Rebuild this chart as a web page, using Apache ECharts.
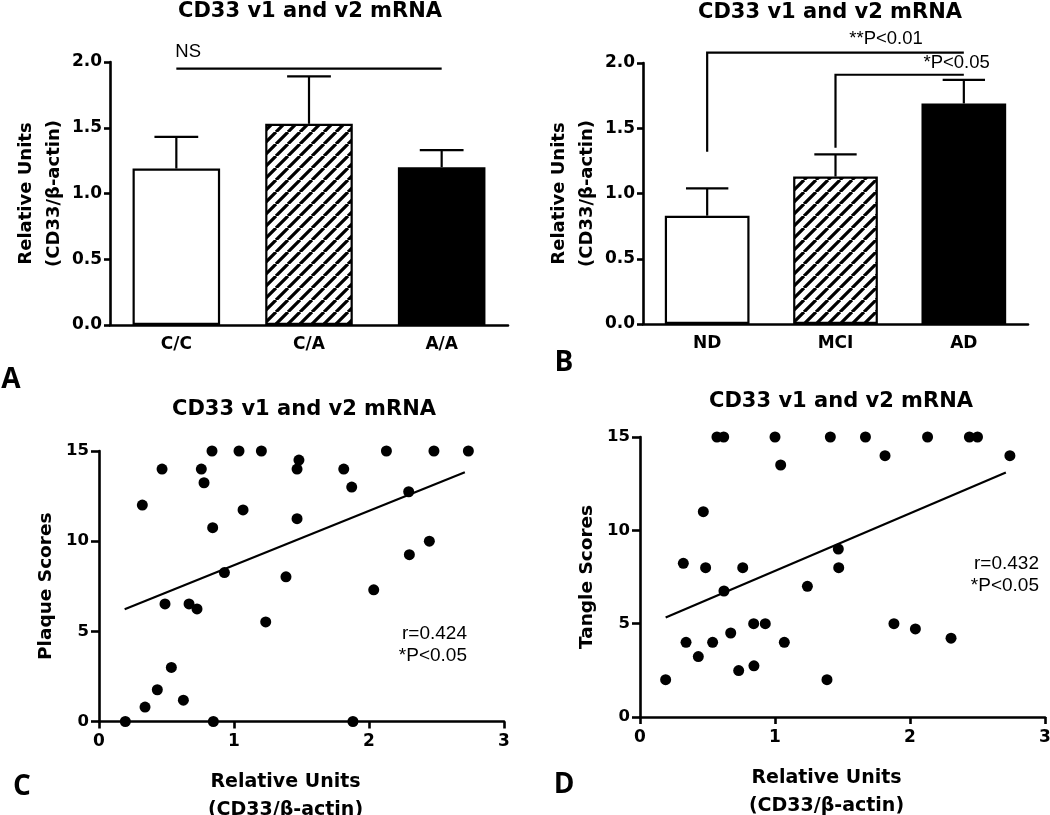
<!DOCTYPE html>
<html><head><meta charset="utf-8">
<script src="https://cdn.jsdelivr.net/npm/echarts@6.0.0/dist/echarts.min.js"></script>
<style>html,body{margin:0;padding:0;background:#fff}#c{width:1050px;height:815px}</style>
</head><body><div id="c"></div>
<script>
// ---------- data ----------
const genotypeCats = ['C/C', 'C/A', 'A/A'];
const genotypeMeans = [1.19, 1.53, 1.20];
const genotypeUpper = [1.43, 1.89, 1.33];
const diagnosisCats = ['ND', 'MCI', 'AD'];
const diagnosisMeans = [0.83, 1.13, 1.69];
const diagnosisUpper = [1.04, 1.30, 1.87];
const barYMax = 2.0;
const barYInterval = 0.5;
const scatterXMax = 3;
const scatterYMax = 15;
const scatterYInterval = 5;
const plaquePoints = [
  [0.195,0],[0.321,12.0],[0.341,0.8],[0.432,1.76],[0.467,14.0],[0.489,6.52],[0.536,3.0],
  [0.625,1.18],[0.667,6.52],[0.726,6.24],[0.758,14.0],[0.778,13.24],[0.837,15],[0.842,10.75],
  [0.847,0],[0.929,8.26],[1.037,15],[1.067,11.73],[1.203,15],[1.235,5.52],[1.385,8.02],
  [1.467,14.0],[1.467,11.25],[1.481,14.5],[1.813,14.0],[1.872,13.0],[1.881,0],[2.035,7.3],
  [2.129,15],[2.294,12.74],[2.299,9.25],[2.447,10.0],[2.481,15],[2.736,15]
];
const tanglePoints = [
  [0.19,2],[0.321,8.23],[0.341,4],[0.432,3.24],[0.469,11],[0.486,8],[0.538,4],[0.622,6.75],
  [0.672,4.5],[0.731,2.49],[0.761,8],[0.842,5],[0.844,2.74],[0.928,5],[1.042,13.5],[1.069,4],
  [1.24,7],[1.385,2],[1.469,9],[1.472,8],[1.815,14],[1.881,5],[2.04,4.72],[2.304,4.22],[2.74,14],
  [0.57,15],[0.62,15],[1.0,15],[1.41,15],[1.67,15],[2.13,15],[2.44,15],[2.50,15]
];
const plaqueFit = [[0.19, 6.23], [2.71, 13.82]];
const tangleFit = [[0.19, 5.33], [2.71, 13.1]];
const genotypeBrackets = [[0, 2, 1.95, 1.95, 'NS']];
const diagnosisBrackets = [[0, 2, 1.32, 2.08, '**P<0.01'], [1, 2, 1.35, 1.91, '*P<0.05']];
const plaqueStats = 'r=0.424\n*P<0.05';
const tangleStats = 'r=0.432\n*P<0.05';
const titleText = 'CD33 v1 and v2 mRNA';
const barYName = 'Relative Units\n(CD33/β-actin)';
const scatterXName = 'Relative Units\n(CD33/β-actin)';

// ---------- styling helpers ----------
const BOLD = '"DejaVu Sans", sans-serif';
const PLAIN = '"Liberation Sans", Arial, sans-serif';
const AX = 2.6;

function hatch() {
  const p = 12, c = document.createElement('canvas');
  c.width = c.height = p;
  const g = c.getContext('2d');
  g.fillStyle = '#fff'; g.fillRect(0, 0, p, p);
  g.strokeStyle = '#000'; g.lineWidth = 3.2; g.beginPath();
  for (const k of [-1, 0, 1]) { g.moveTo(k * p, p); g.lineTo(k * p + p, 0); }
  g.stroke();
  return c;
}
const fills = [
  { color: '#fff', borderColor: '#000', borderWidth: 2.2 },
  { color: { image: hatch(), repeat: 'repeat' }, borderColor: '#000', borderWidth: 2.2 },
  { color: '#000', borderColor: '#000', borderWidth: 2.2 }
];

function catAxis(grid, cats) {
  return {
    type: 'category', gridIndex: grid, data: cats,
    axisLine: { lineStyle: { color: '#000', width: AX } },
    axisTick: { alignWithLabel: true, length: 6, lineStyle: { color: '#000', width: AX } },
    axisLabel: { color: '#000', fontFamily: BOLD, fontWeight: 'bold', fontSize: 17, margin: 11 }
  };
}
function barValAxis(grid) {
  return {
    type: 'value', gridIndex: grid, min: 0, max: barYMax, interval: barYInterval,
    name: barYName, nameLocation: 'middle', nameGap: 41,
    nameTextStyle: { color: '#000', fontFamily: BOLD, fontWeight: 'bold', fontSize: 18, lineHeight: 28 },
    axisLine: { show: true, lineStyle: { color: '#000', width: AX } },
    axisTick: { show: true, length: 6, lineStyle: { color: '#000', width: AX } },
    splitLine: { show: false },
    axisLabel: { color: '#000', fontFamily: BOLD, fontWeight: 'bold', fontSize: 17, margin: 8,
      formatter: v => v.toFixed(1) }
  };
}
function scXAxis(grid) {
  return {
    type: 'value', gridIndex: grid, min: 0, max: scatterXMax, interval: 1,
    name: scatterXName, nameLocation: 'middle', nameGap: 47,
    nameTextStyle: { color: '#000', fontFamily: BOLD, fontWeight: 'bold', fontSize: 19, lineHeight: 28,
      padding: [0, 32, 0, 0] },
    axisLine: { show: true, onZero: false, lineStyle: { color: '#000', width: AX } },
    axisTick: { show: true, length: 7, lineStyle: { color: '#000', width: AX } },
    splitLine: { show: false },
    axisLabel: { color: '#000', fontFamily: BOLD, fontWeight: 'bold', fontSize: 17, margin: 12 }
  };
}
function scYAxis(grid, name) {
  return {
    type: 'value', gridIndex: grid, min: 0, max: scatterYMax, interval: scatterYInterval,
    name: name, nameLocation: 'middle', nameGap: 43,
    nameTextStyle: { color: '#000', fontFamily: BOLD, fontWeight: 'bold', fontSize: 18.5 },
    axisLine: { show: true, onZero: false, lineStyle: { color: '#000', width: AX } },
    axisTick: { show: true, length: 8, lineStyle: { color: '#000', width: AX } },
    splitLine: { show: false },
    axisLabel: { color: '#000', fontFamily: BOLD, fontWeight: 'bold', fontSize: 16.5, margin: 10 }
  };
}

function barSeries(idx, means) {
  return {
    type: 'bar', xAxisIndex: idx, yAxisIndex: idx, barWidth: '66%',
    data: means.map((v, i) => ({ value: v, itemStyle: fills[i] })),
    silent: true, z: 2
  };
}
function errSeries(idx, means, upper) {
  return {
    type: 'custom', xAxisIndex: idx, yAxisIndex: idx, z: 3, silent: true,
    data: means.map((m, i) => [i, m, upper[i]]),
    encode: { x: 0, y: [1, 2] },
    renderItem: (params, api) => {
      const p0 = api.coord([api.value(0), api.value(1)]);
      const p1 = api.coord([api.value(0), api.value(2)]);
      const half = api.size([1, 0])[0] * 0.66 / 4;
      const st = { stroke: '#000', lineWidth: 2.2 };
      return { type: 'group', children: [
        { type: 'line', shape: { x1: p0[0], y1: p0[1], x2: p1[0], y2: p1[1] }, style: st },
        { type: 'line', shape: { x1: p1[0] - half, y1: p1[1], x2: p1[0] + half, y2: p1[1] }, style: st }
      ]};
    }
  };
}
// bracket: [fromCat, toCat, baseValue, levelValue, label]
function bracketSeries(idx, brackets, labelPlace) {
  return {
    type: 'custom', xAxisIndex: idx, yAxisIndex: idx, z: 4, silent: true,
    data: brackets.map(b => [b[0], b[1], b[2], b[3]]),
    encode: { x: [0, 1], y: [2, 3] },
    renderItem: (params, api) => {
      const b = brackets[params.dataIndex];
      const a = api.coord([b[0], b[2]]);
      const t = api.coord([b[0], b[3]]);
      const e = api.coord([b[1], b[3]]);
      const lp = labelPlace[params.dataIndex];
      const children = [
        { type: 'polyline', shape: { points: [a, t, e] }, style: { stroke: '#000', lineWidth: 2.2, fill: null } },
        { type: 'text', x: (lp.anchor === 'start' ? t[0] : e[0]) + lp.dx, y: t[1] + lp.dy,
          style: { text: b[4], fill: '#000', fontFamily: PLAIN, fontSize: 18.5, align: lp.align, verticalAlign: 'bottom' } }
      ];
      return { type: 'group', children };
    }
  };
}
function scatterSeries(idx, pts) {
  return { type: 'scatter', xAxisIndex: idx, yAxisIndex: idx, data: pts, symbol: 'circle',
    symbolSize: 11, itemStyle: { color: '#000', opacity: 1 }, z: 4, silent: true };
}
function fitSeries(idx, pts) {
  return { type: 'line', xAxisIndex: idx, yAxisIndex: idx, data: pts, symbol: 'none',
    lineStyle: { color: '#000', width: 2.2 }, z: 3, silent: true };
}

function gtext(x, y, text, font, size, weight, align) {
  return { type: 'text', x, y, silent: true,
    style: { text, fill: '#000', fontFamily: font, fontSize: size, fontWeight: weight,
      align: align || 'center', verticalAlign: 'middle', lineHeight: 22 } };
}

const chart = echarts.init(document.getElementById('c'), null, { renderer: 'canvas' });
chart.setOption({
  animation: false,
  backgroundColor: '#fff',
  grid: [
    { left: 110, top: 62, width: 398, height: 263, outerBoundsMode: 'none' },
    { left: 643, top: 63, width: 385, height: 261, outerBoundsMode: 'none' },
    { left: 99, top: 451, width: 405, height: 270.5, outerBoundsMode: 'none' },
    { left: 640, top: 437, width: 405, height: 280, outerBoundsMode: 'none' }
  ],
  xAxis: [catAxis(0, genotypeCats), catAxis(1, diagnosisCats), scXAxis(2), scXAxis(3)],
  yAxis: [barValAxis(0), barValAxis(1), scYAxis(2, 'Plaque Scores'), scYAxis(3, 'Tangle Scores')],
  series: [
    barSeries(0, genotypeMeans), errSeries(0, genotypeMeans, genotypeUpper),
    bracketSeries(0, genotypeBrackets, [{ anchor: 'start', dx: -1, dy: -7, align: 'left' }]),
    barSeries(1, diagnosisMeans), errSeries(1, diagnosisMeans, diagnosisUpper),
    bracketSeries(1, diagnosisBrackets, [
      { anchor: 'end', dx: -41, dy: -4, align: 'right' },
      { anchor: 'end', dx: 26, dy: -2, align: 'right' }
    ]),
    fitSeries(2, plaqueFit), scatterSeries(2, plaquePoints),
    fitSeries(3, tangleFit), scatterSeries(3, tanglePoints)
  ],
  graphic: [
    gtext(310, 12, titleText, BOLD, 21, 'bold'),
    gtext(830, 13, titleText, BOLD, 21, 'bold'),
    gtext(304, 410, titleText, BOLD, 21, 'bold'),
    gtext(841, 402, titleText, BOLD, 21, 'bold'),
    gtext(11, 380, 'A', '"Open Sans", sans-serif', 28, 'bold'),
    gtext(564, 363, 'B', '"Open Sans", sans-serif', 28, 'bold'),
    gtext(22, 787, 'C', '"Open Sans", sans-serif', 28, 'bold'),
    gtext(564, 785, 'D', '"Open Sans", sans-serif', 28, 'bold'),
    gtext(467, 645, plaqueStats, PLAIN, 19, 'normal', 'right'),
    gtext(1039, 575, tangleStats, PLAIN, 19, 'normal', 'right')
  ]
});
</script>
</body></html>
